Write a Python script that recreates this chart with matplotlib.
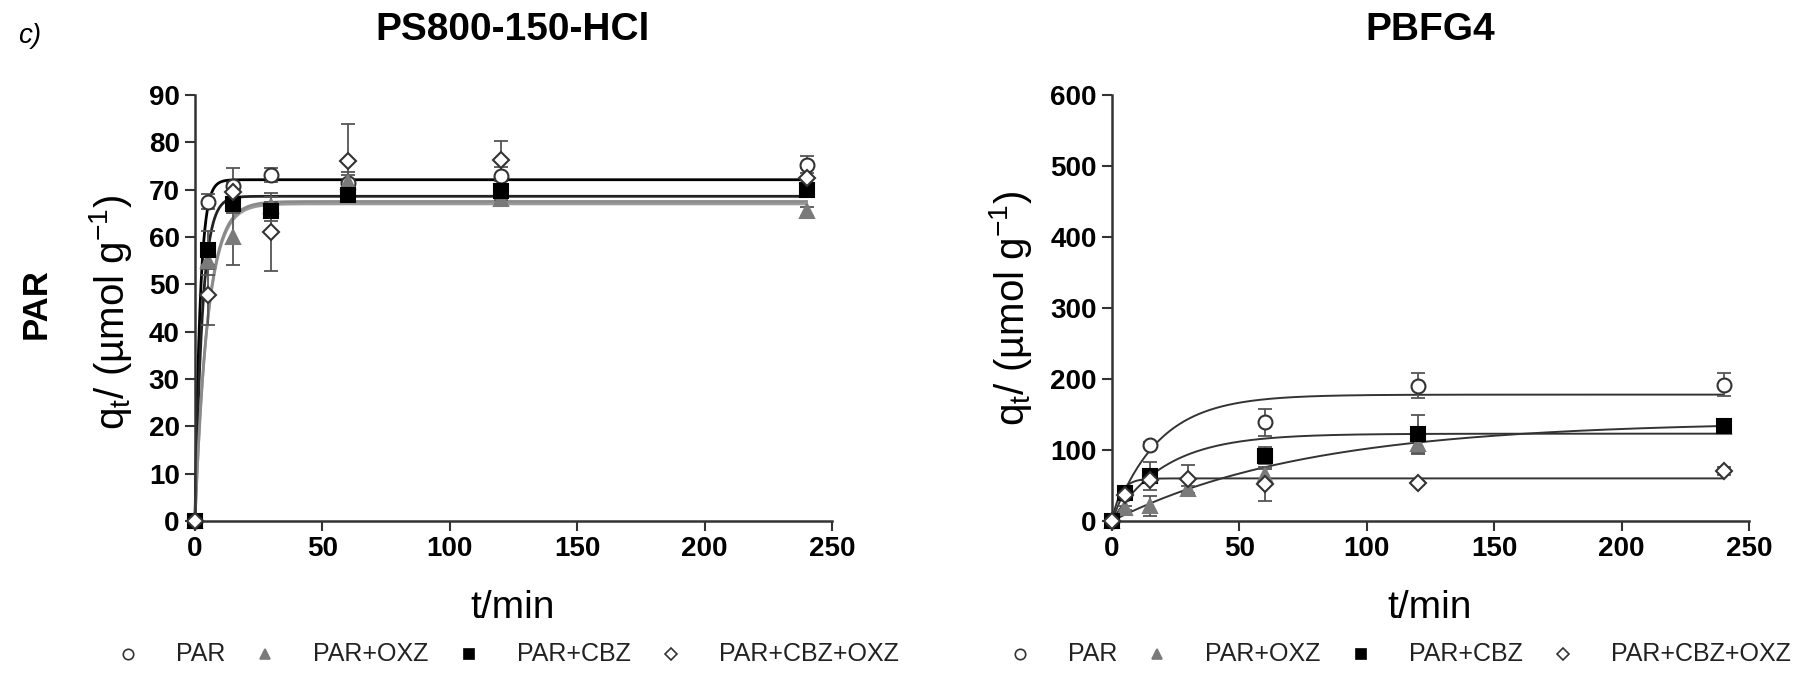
import numpy as np
import matplotlib
matplotlib.use('Agg')
import matplotlib.pyplot as plt
from matplotlib.lines import Line2D

plt.rcParams['font.family'] = ['Liberation Sans', 'DejaVu Sans']
plt.rcParams['mathtext.default'] = 'regular'

# ---------------- data ----------------
time_min = [0, 5, 15, 30, 60, 120, 240]
series_labels = ['PAR', 'PAR+OXZ', 'PAR+CBZ', 'PAR+CBZ+OXZ']
panel_titles = ['PS800-150-HCl', 'PBFG4']
row_label = 'PAR'

# PS800-150-HCl (umol/g)
ps_par = [0, 67.5, 70.8, 73.1, 71.5, 72.8, 75.3]
ps_par_err = [0, 1.5, 3.8, 1.5, 1.5, 2.0, 1.8]
ps_oxz = [0, 55.0, 60.1, 66.5, 71.7, 68.0, 65.4]
ps_oxz_err = [0, 3.0, 6.0, 2.0, 2.0, 1.0, 1.0]
ps_cbz = [0, 57.3, 67.0, 65.4, 68.9, 69.8, 70.0]
ps_cbz_err = [0, 4.0, 2.0, 2.0, 1.5, 2.0, 1.5]
ps_cbzoxz = [0, 47.8, 69.5, 61.0, 76.0, 76.3, 72.5]
ps_cbzoxz_err = [0, 6.3, 2.0, 8.2, 7.8, 4.0, 2.0]
# fitted kinetic parameters (qe, k) for the PS800-150-HCl curves
ps_qe = [72.1, 67.0, 68.6, 67.5]
ps_k = [0.5, 0.2, 0.35, 0.2]

# PBFG4 (umol/g)
pb_par = [0, 38, 107, np.nan, 139, 190.6, 192]
pb_par_err = [0, 3, 4, np.nan, 19, 18, 16]
pb_oxz = [0, 18, 21, 44.7, 65, 108, 132]
pb_oxz_err = [0, 3, 14, 5, 8, 12, 5]
pb_cbz = [0, 40, 63.5, np.nan, 92, 122, 134]
pb_cbz_err = [0, 4, 20, np.nan, 12, 28, 5]
pb_cbzoxz = [0, 36, 58, 59, 52, 54, 70.6]
pb_cbzoxz_err = [0, 3, 3, 20, 24, 3, 6]
pb_qe = [178, 140, 123, 60]
pb_k = [0.055, 0.013, 0.048, 0.3]

x_ticks = [0, 50, 100, 150, 200, 250]
ps_y_ticks = [0, 10, 20, 30, 40, 50, 60, 70, 80, 90]
pb_y_ticks = [0, 100, 200, 300, 400, 500, 600]

# ---------------- style ----------------
W, H = 1812, 673
markers = ['o', '^', 's', 'D']
m_face = ['white', '#7a7a7a', 'black', 'white']
m_edge = ['#333333', '#7a7a7a', 'black', '#333333']
m_size = [10, 10, 9.5, 8.5]
ps_line_colors = ['black', '#9a9a9a', '#222222', '#8a8a8a']
pb_line_colors = ['#333333', '#333333', '#333333', '#333333']

fig = plt.figure(figsize=(W / 100, H / 100), dpi=100)


def fpos(x, y):
    return x / W, 1 - y / H


ax1 = fig.add_axes([195 / W, 1 - 521 / H, 637 / W, 426 / H])
ax2 = fig.add_axes([1112 / W, 1 - 521 / H, 637 / W, 426 / H])

panels = [
    (ax1, [ps_par, ps_oxz, ps_cbz, ps_cbzoxz],
     [ps_par_err, ps_oxz_err, ps_cbz_err, ps_cbzoxz_err],
     ps_qe, ps_k, ps_line_colors, ps_y_ticks, 2.0),
    (ax2, [pb_par, pb_oxz, pb_cbz, pb_cbzoxz],
     [pb_par_err, pb_oxz_err, pb_cbz_err, pb_cbzoxz_err],
     pb_qe, pb_k, pb_line_colors, pb_y_ticks, 1.4),
]

t_fit = np.linspace(0, time_min[-1], 500)
for ax, ys, errs, qe, kk, lcols, yt, lw in panels:
    for i in range(4):
        q_fit = qe[i] * (1 - np.exp(-kk[i] * t_fit))
        ax.plot(t_fit, q_fit, color=lcols[i], lw=lw, zorder=2, clip_on=False)
    for i in range(4):
        ax.errorbar(time_min, ys[i], yerr=errs[i], fmt='none', ecolor='#555555',
                    elinewidth=1.3, capsize=5, capthick=1.3, zorder=3, clip_on=False)
    for i in range(4):
        ax.plot(time_min, ys[i], ls='none', marker=markers[i], ms=m_size[i],
                mfc=m_face[i], mec=m_edge[i], mew=1.5, zorder=4, clip_on=False)
    ax.set_xlim(0, 250)
    ax.set_ylim(yt[0], yt[-1])
    ax.set_xticks(x_ticks)
    ax.set_yticks(yt)
    for s in ['top', 'right']:
        ax.spines[s].set_visible(False)
    for s in ['left', 'bottom']:
        ax.spines[s].set_color('#333333')
        ax.spines[s].set_linewidth(1.8)
    ax.tick_params(direction='out', length=7, width=1.5, color='#333333', pad=4,
                   labelsize=20)
    for lab in ax.get_xticklabels() + ax.get_yticklabels():
        lab.set_fontweight('bold')
    ax.set_facecolor('none')

# titles and labels
fig.text(*fpos(30, 36), 'c)', fontsize=20, style='italic', ha='center', va='center')
fig.text(*fpos(513, 30), panel_titles[0], fontsize=28, weight='bold', ha='center', va='center')
fig.text(*fpos(1430, 30), panel_titles[1], fontsize=28, weight='bold', ha='center', va='center')
fig.text(*fpos(36, 304), row_label, fontsize=25, weight='bold', rotation=90,
         ha='center', va='center')
ylab = 'q$_t$/ (µmol g$^{-1}$)'
fig.text(*fpos(111, 312), ylab, fontsize=29, rotation=90, ha='center', va='center')
fig.text(*fpos(1011, 308), ylab, fontsize=29, rotation=90, ha='center', va='center')
fig.text(*fpos(513, 608), 't/min', fontsize=28, ha='center', va='center')
fig.text(*fpos(1430, 608), 't/min', fontsize=28, ha='center', va='center')

# legends (one row under each panel)
fig.canvas.draw()
renderer = fig.canvas.get_renderer()


def draw_legend(x_start, y_px, gap1=48, gap2=40):
    x = x_start
    for i, lab in enumerate(series_labels):
        fig.add_artist(Line2D([x / W], [1 - y_px / H], transform=fig.transFigure,
                              marker=markers[i], ms=m_size[i] * 0.75, mfc=m_face[i],
                              mec=m_edge[i], mew=1.2, ls='none'))
        t = fig.text((x + gap1) / W, 1 - y_px / H, lab, fontsize=18, color='#222222',
                     ha='left', va='center')
        bb = t.get_window_extent(renderer)
        x = bb.x1 + gap2


draw_legend(128, 654)
draw_legend(1020, 654)

fig.savefig('out.png', dpi=100)
